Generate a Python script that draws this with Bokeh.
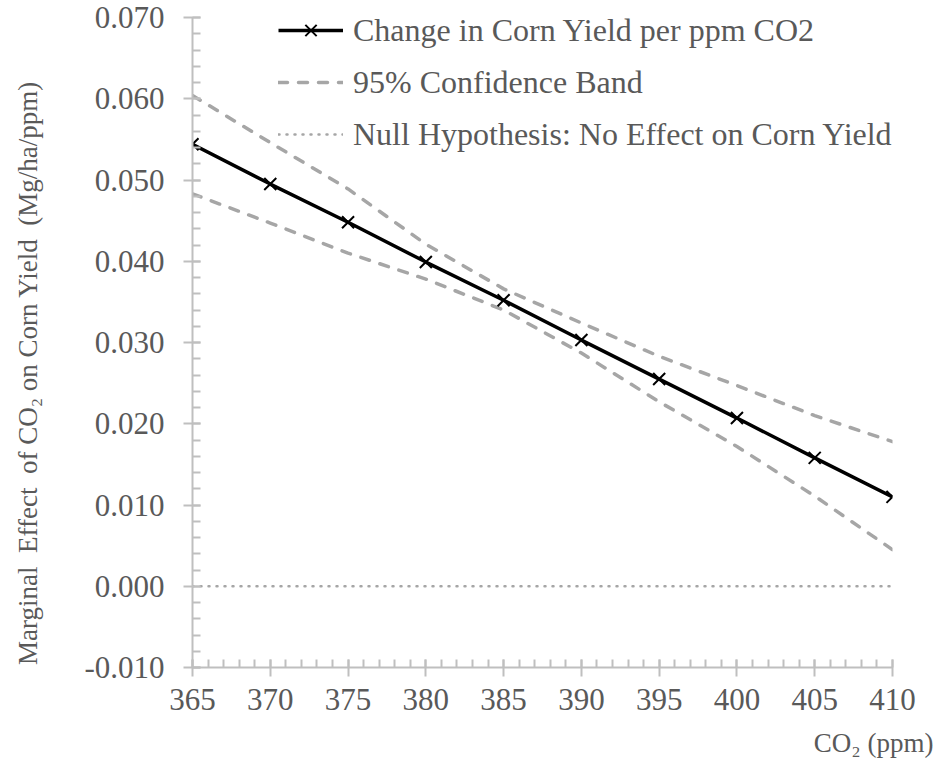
from bokeh.plotting import figure
from bokeh.models import (Range1d, FixedTicker, NumeralTickFormatter, Legend,
                          LegendItem, Title, ColumnDataSource)
from bokeh.embed import file_html
from bokeh.resources import INLINE

# CO2 concentration (ppm) and the estimated marginal effect on corn yield
co2_ppm = [365, 370, 375, 380, 385, 390, 395, 400, 405, 410]
marginal_effect = [0.0544, 0.0495, 0.0448, 0.0399, 0.0352, 0.0303, 0.0255, 0.0207, 0.0158, 0.0110]
band_upper = [0.0604, 0.0546, 0.0489, 0.0421, 0.0366, 0.0324, 0.0283, 0.0247, 0.0210, 0.0178]
band_lower = [0.0483, 0.0447, 0.0410, 0.0378, 0.0340, 0.0287, 0.0227, 0.0172, 0.0111, 0.0045]
null_effect = [0.0 for _ in co2_ppm]

x_ticks = [365, 370, 375, 380, 385, 390, 395, 400, 405, 410]
y_ticks = [-0.010, 0.000, 0.010, 0.020, 0.030, 0.040, 0.050, 0.060, 0.070]

FONT = "Liberation Serif"
TEXT = "#595959"
AXIS = "#bfbfbf"
BAND = "#a6a6a6"
NBSP = "\u00a0"

src = ColumnDataSource(dict(x=co2_ppm, y=marginal_effect, up=band_upper,
                            lo=band_lower, zero=null_effect))

p = figure(width=934, height=771, output_backend="svg", toolbar_location=None,
           x_range=Range1d(365, 410), y_range=Range1d(-0.010, 0.070),
           min_border_left=192, min_border_right=42, min_border_top=17,
           min_border_bottom=104)
p.outline_line_color = None
p.xgrid.visible = False
p.ygrid.visible = False
p.background_fill_color = "white"
p.border_fill_color = "white"

# axes
p.xaxis.ticker = FixedTicker(ticks=x_ticks, minor_ticks=list(range(365, 411)))
p.yaxis.ticker = FixedTicker(ticks=y_ticks,
                             minor_ticks=[round(-0.010 + 0.002 * i, 3) for i in range(41)])
p.yaxis.formatter = NumeralTickFormatter(format="0.000")
for ax in (p.xaxis[0], p.yaxis[0]):
    ax.axis_line_color = AXIS
    ax.axis_line_width = 2
    ax.major_tick_line_color = AXIS
    ax.major_tick_line_width = 2
    ax.minor_tick_line_color = AXIS
    ax.minor_tick_line_width = 2
    ax.major_tick_in = 8
    ax.major_tick_out = 9
    ax.minor_tick_in = 8
    ax.minor_tick_out = 0
    ax.major_label_text_font = FONT
    ax.major_label_text_font_size = "31px"
    ax.major_label_text_color = TEXT
p.yaxis.major_label_standoff = 19
p.xaxis.major_label_standoff = 12

# y-axis title (trailing no-break spaces push the visible text a little lower)
p.yaxis.axis_label = ("Marginal" + NBSP + " Effect" + NBSP + " of CO\u2082 on Corn Yield"
                      + NBSP + " (Mg/ha/ppm)" + NBSP * 9)
p.yaxis.axis_label_text_font = FONT
p.yaxis.axis_label_text_font_size = "27px"
p.yaxis.axis_label_text_font_style = "normal"
p.yaxis.axis_label_text_color = TEXT
p.yaxis.axis_label_standoff = 38

# null hypothesis, confidence band and the estimate
null_r = p.line("x", "zero", source=src, line_color=BAND, line_width=2.5,
                line_dash="1 7", line_cap="round")
up_r = p.line("x", "up", source=src, line_color=BAND, line_width=3.5,
              line_dash="9 11", line_cap="round")
lo_r = p.line("x", "lo", source=src, line_color=BAND, line_width=3.5,
              line_dash="9 11", line_cap="round")
main_r = p.line("x", "y", source=src, line_color="black", line_width=3.5)
mark_r = p.scatter("x", "y", source=src, marker="x", size=17, line_color="black",
                   line_width=2)

legend = Legend(items=[
    LegendItem(label="Change in Corn Yield per ppm CO2", renderers=[main_r, mark_r]),
    LegendItem(label="95% Confidence Band", renderers=[up_r]),
    LegendItem(label="Null Hypothesis: No Effect on Corn Yield", renderers=[null_r]),
], location=(86, 513), padding=0, margin=0, spacing=12, glyph_width=65,
    glyph_height=40, label_height=40, label_standoff=10,
    label_text_font=FONT, label_text_font_size="32px", label_text_color=TEXT,
    border_line_alpha=0, background_fill_alpha=0)
p.add_layout(legend, "center")

# x-axis title, right-aligned beneath the axis
p.add_layout(Title(text="CO\u2082 (ppm)", align="right", offset=-41, text_font=FONT,
                   text_font_size="27px", text_font_style="normal", text_color=TEXT,
                   standoff=26, vertical_align="bottom"), "below")

open("out.html", "w").write(file_html(p, INLINE))
